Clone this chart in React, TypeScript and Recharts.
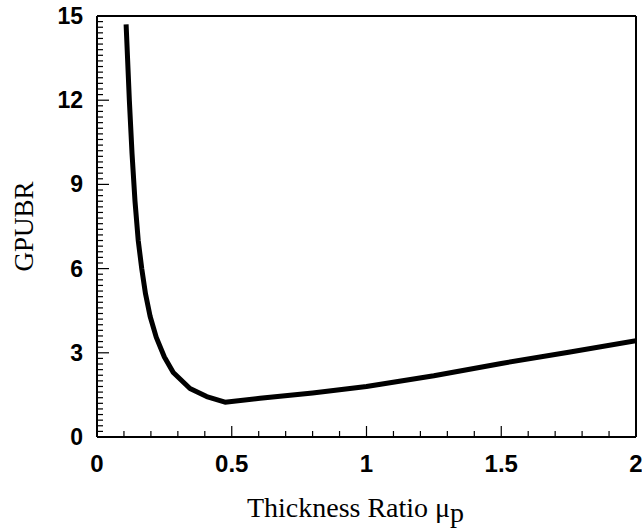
import React from 'react';
import { LineChart, Line, XAxis, YAxis, ReferenceLine, Label } from 'recharts';

const thicknessRatio = [0.108, 0.12, 0.13, 0.141, 0.153, 0.166, 0.18, 0.197, 0.22, 0.25, 0.283, 0.345, 0.407, 0.475, 0.605, 0.8, 1.0, 1.25, 1.5, 1.75, 2.0];
const gpubr = [14.7, 12.0, 10.1, 8.4, 7.0, 6.0, 5.1, 4.3, 3.55, 2.85, 2.3, 1.73, 1.44, 1.24, 1.38, 1.57, 1.8, 2.18, 2.62, 3.02, 3.43];

const xMajorTicks = [0, 0.5, 1, 1.5, 2];
const yMajorTicks = [0, 3, 6, 9, 12, 15];
const xMinorStep = 0.1;
const yMinorStep = 0.2;

const xTicks = Array.from({ length: Math.round(2 / xMinorStep) + 1 }, (_, i) => Math.round(i * xMinorStep * 10) / 10);
const yTicks = Array.from({ length: Math.round(15 / yMinorStep) + 1 }, (_, i) => Math.round(i * yMinorStep * 10) / 10);

const data = thicknessRatio.map((x, i) => ({ x, y: gpubr[i] }));

const isMajor = (v: number, list: number[]) => list.some((m) => Math.abs(m - Number(v)) < 1e-6);

const renderYTick = (props: any) => {
  const x = Number(props.x);
  const y = Number(props.y);
  const major = isMajor(props.payload.value, yMajorTicks);
  return (
    <g key={`yt-${props.index}`}>
      <rect x={x} y={y - 0.6} width={major ? 12 : 6} height={1.2} fill="#000" stroke="none" />
      {major && (
        <text x={x - 14} y={y} textAnchor="end" dominantBaseline="central" fontFamily="'Liberation Sans', Arial, sans-serif" fontWeight="bold" fontSize={23} fill="#000">
          {props.payload.value}
        </text>
      )}
    </g>
  );
};

const renderXTick = (props: any) => {
  const x = Number(props.x);
  const y = Number(props.y);
  const major = isMajor(props.payload.value, xMajorTicks);
  const len = major ? 11 : 6;
  return (
    <g key={`xt-${props.index}`}>
      <rect x={x - 0.6} y={y - len} width={1.2} height={len} fill="#000" stroke="none" />
      {major && (
        <text x={x} y={y + 35} textAnchor="middle" fontFamily="'Liberation Sans', Arial, sans-serif" fontWeight="bold" fontSize={24} fill="#000">
          {props.payload.value}
        </text>
      )}
    </g>
  );
};

const YTitle = (props: any) => {
  const vb = props.viewBox;
  const cx = vb.x + 24;
  const cy = vb.y + vb.height / 2;
  return (
    <text x={cx} y={cy} transform={`rotate(-90 ${cx} ${cy})`} textAnchor="middle" dominantBaseline="central" fontFamily="'Liberation Serif', 'Times New Roman', serif" fontSize={27} fill="#000">
      GPUBR
    </text>
  );
};

const XTitle = (props: any) => {
  const vb = props.viewBox;
  const cx = vb.x + vb.width / 2 - 11;
  const by = vb.y + 80;
  return (
    <text x={cx} y={by} textAnchor="middle" fontFamily="'Liberation Serif', 'Times New Roman', serif" fontSize={28} fill="#000">
      <tspan>Thickness Ratio μ</tspan>
      <tspan dy={5}>p</tspan>
    </text>
  );
};

export default function App() {
  return (
    <div style={{ position: 'absolute', left: 0, top: 0, background: '#fff' }}>
      <LineChart width={642} height={530} data={data} margin={{ top: 16, right: 6, left: 0, bottom: 0 }}>
        <XAxis
          dataKey="x"
          type="number"
          domain={[0, 2]}
          ticks={xTicks}
          interval={0}
          tickSize={0}
          tickMargin={0}
          axisLine={{ stroke: '#000', strokeWidth: 2 }}
          tick={renderXTick}
          height={93}
          allowDataOverflow
        >
          <Label content={<XTitle />} />
        </XAxis>
        <YAxis
          type="number"
          domain={[0, 15]}
          ticks={yTicks}
          interval={0}
          tickSize={0}
          tickMargin={0}
          axisLine={{ stroke: '#000', strokeWidth: 2 }}
          tick={renderYTick}
          width={97}
          allowDataOverflow
        >
          <Label content={<YTitle />} />
        </YAxis>
        <ReferenceLine y={15} stroke="#000" strokeWidth={2} />
        <ReferenceLine x={2} stroke="#000" strokeWidth={2} />
        <Line
          type="linear"
          dataKey="y"
          stroke="#000"
          strokeWidth={5}
          dot={false}
          strokeLinejoin="round"
          isAnimationActive={false}
        />
      </LineChart>
    </div>
  );
}
